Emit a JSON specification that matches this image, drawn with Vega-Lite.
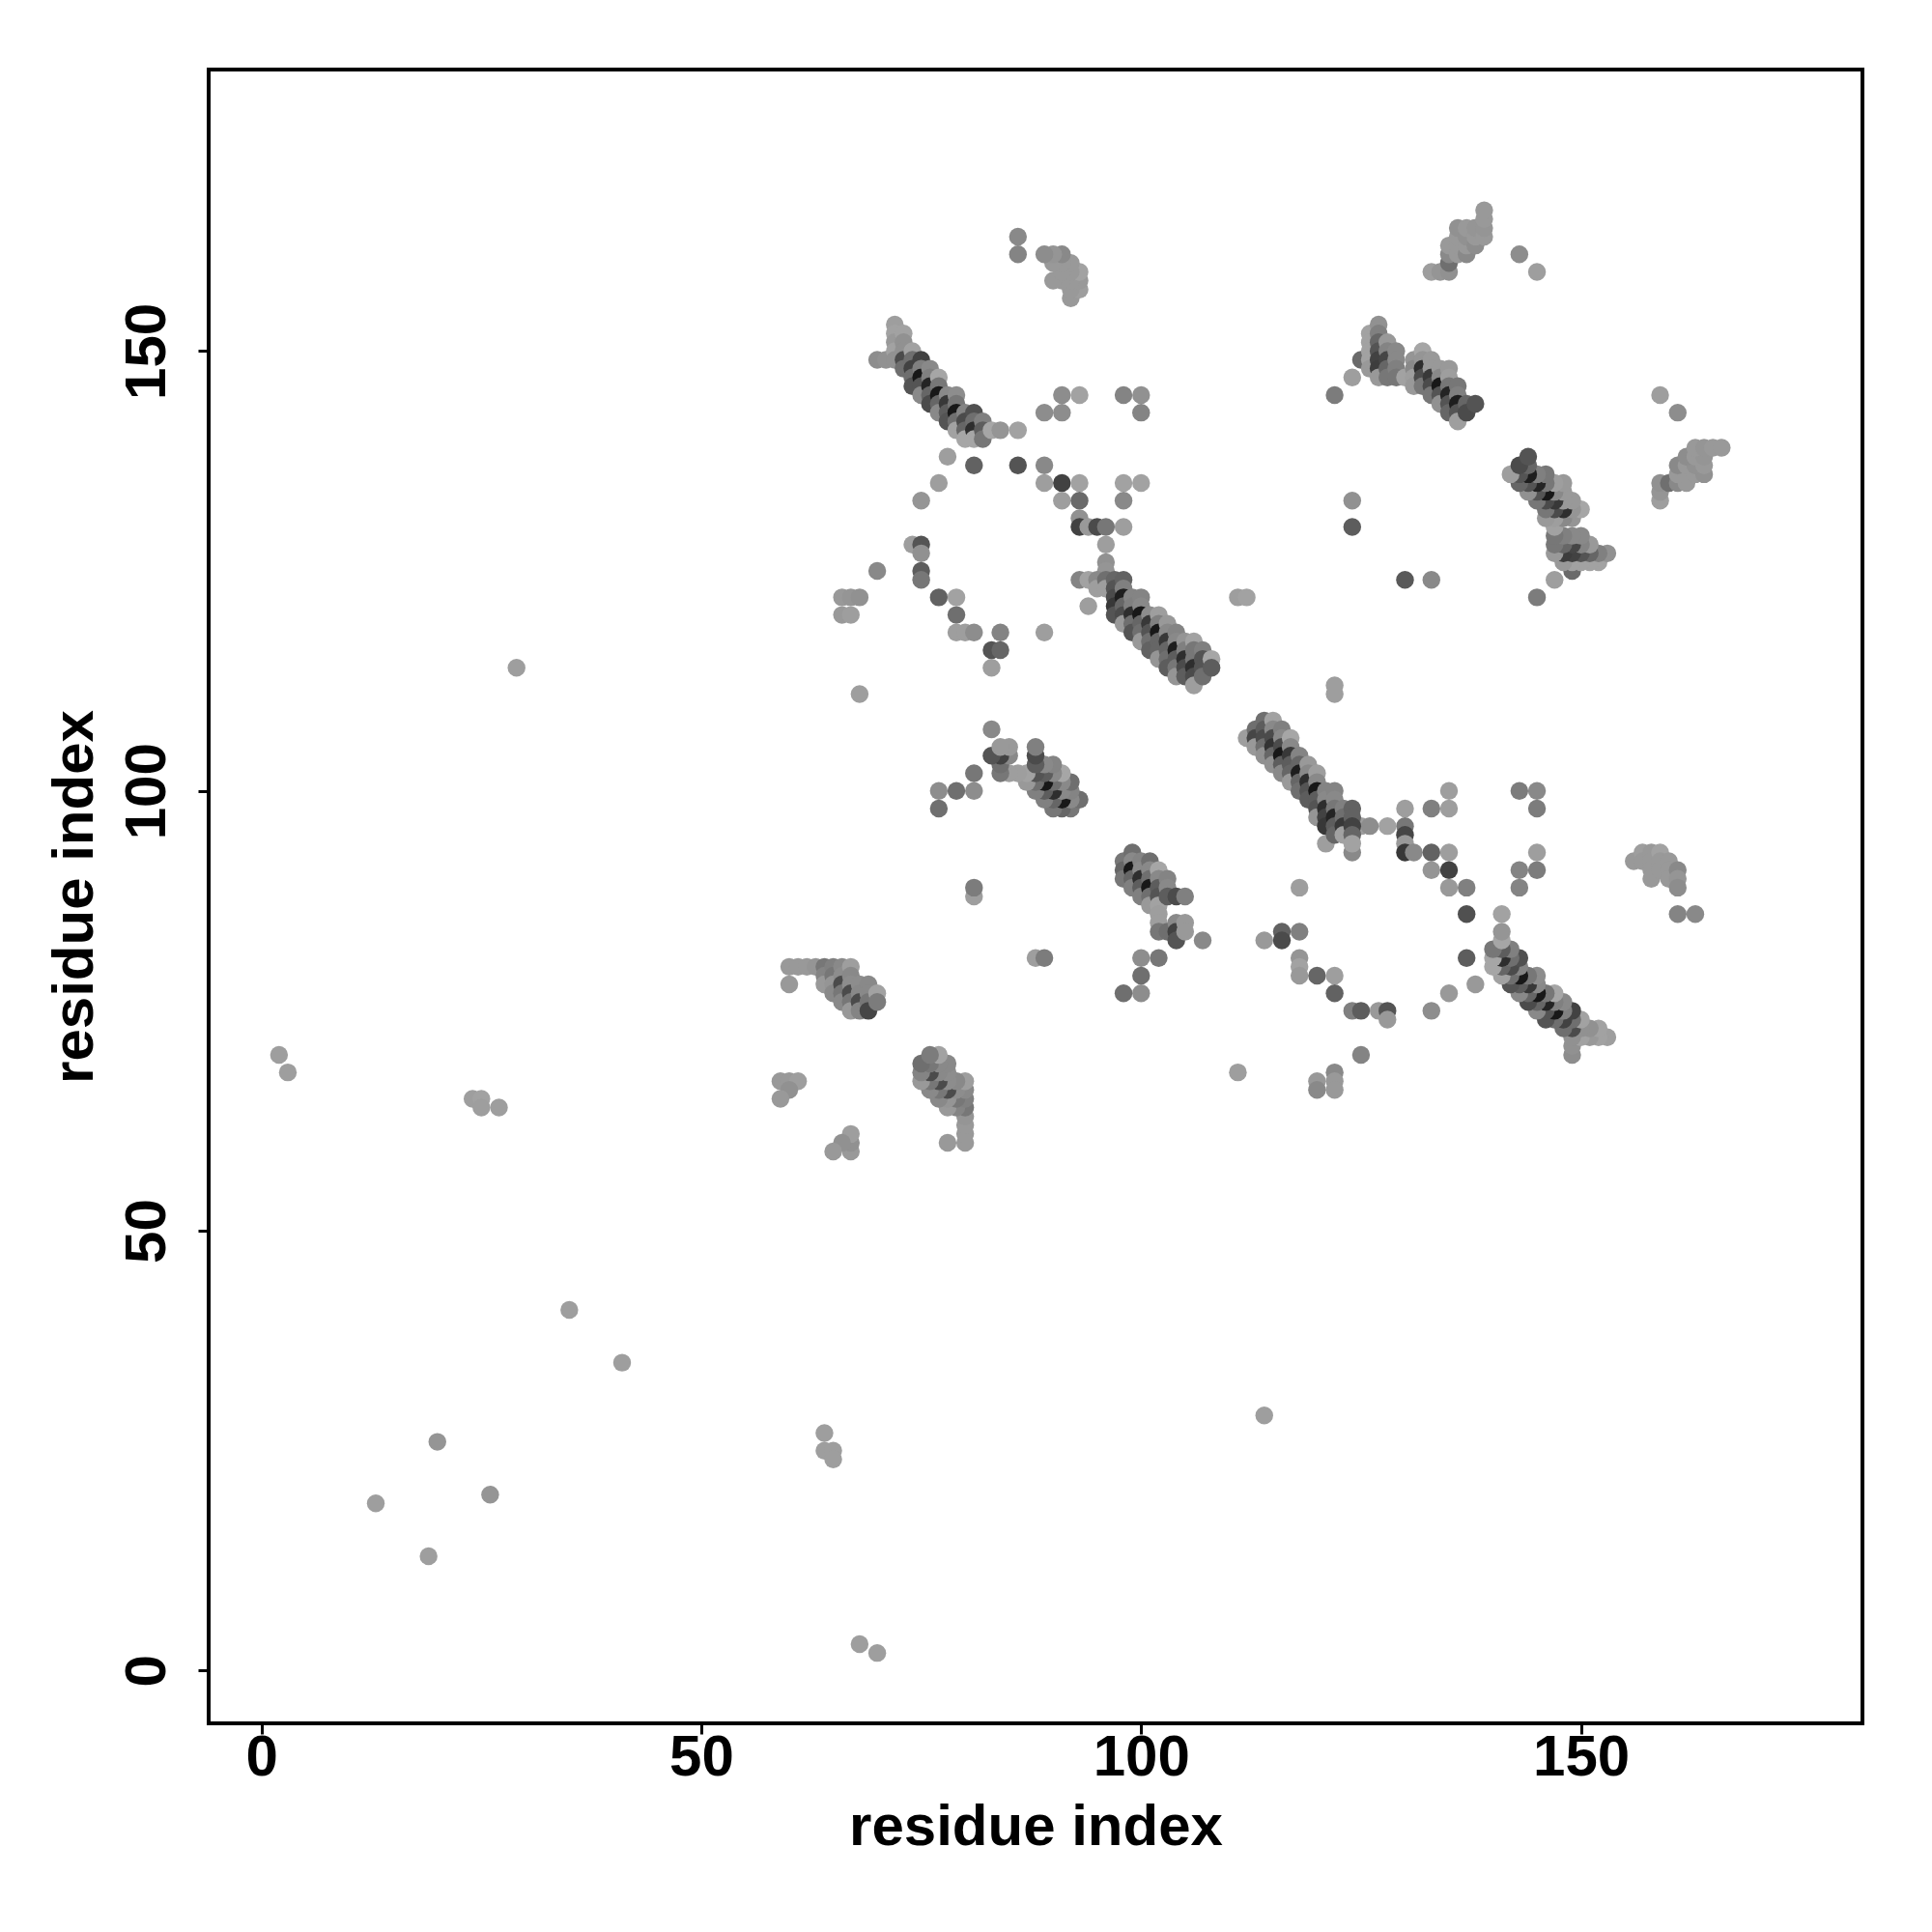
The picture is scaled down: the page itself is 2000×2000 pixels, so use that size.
{"$schema":"https://vega.github.io/schema/vega-lite/v6.json","width":1712,"height":1712,"autosize":"none","padding":{"left":216,"top":72,"right":72,"bottom":216},"background":"white",
"config":{"view":{"stroke":"#000000","strokeWidth":4,"fill":"white"}},
"data":{"values":[
{"x":2,"y":70,"g":155},{"x":3,"y":68,"g":155},{"x":24,"y":65,"g":155},{"x":25,"y":65,"g":160},{"x":25,"y":64,"g":155},{"x":27,"y":64,"g":155},{"x":29,"y":114,"g":155},{"x":35,"y":41,"g":155},{"x":41,"y":35,"g":155},{"x":20,"y":26,"g":145},{"x":26,"y":20,"g":145},{"x":13,"y":19,"g":155},{"x":19,"y":13,"g":155},{"x":64,"y":27,"g":155},{"x":64,"y":25,"g":155},{"x":65,"y":25,"g":155},{"x":65,"y":24,"g":155},{"x":68,"y":3,"g":155},{"x":70,"y":2,"g":155},{"x":114,"y":29,"g":155},
{"x":59,"y":67,"g":150},{"x":60,"y":67,"g":150},{"x":61,"y":67,"g":155},{"x":60,"y":66,"g":140},{"x":59,"y":65,"g":150},{"x":67,"y":59,"g":150},{"x":67,"y":60,"g":140},{"x":67,"y":61,"g":155},{"x":66,"y":60,"g":140},{"x":65,"y":59,"g":150},
{"x":60,"y":80,"g":150},{"x":61,"y":80,"g":150},{"x":62,"y":80,"g":150},{"x":63,"y":80,"g":145},{"x":60,"y":78,"g":150},
{"x":64,"y":80,"g":110},{"x":64,"y":79,"g":125},{"x":64,"y":78,"g":150},{"x":65,"y":80,"g":120},{"x":65,"y":79,"g":110},{"x":65,"y":78,"g":145},{"x":65,"y":77,"g":130},{"x":66,"y":80,"g":130},{"x":66,"y":79,"g":135},{"x":66,"y":78,"g":60},{"x":66,"y":77,"g":110},{"x":66,"y":76,"g":130},{"x":67,"y":80,"g":155},{"x":67,"y":79,"g":130},{"x":67,"y":78,"g":135},{"x":67,"y":77,"g":60},{"x":67,"y":76,"g":110},{"x":67,"y":75,"g":150},{"x":68,"y":78,"g":135},{"x":68,"y":77,"g":130},{"x":68,"y":76,"g":60},{"x":68,"y":75,"g":125},{"x":69,"y":78,"g":130},{"x":69,"y":77,"g":130},{"x":69,"y":76,"g":110},{"x":69,"y":75,"g":55},{"x":70,"y":77,"g":160},{"x":70,"y":76,"g":115},
{"x":80,"y":60,"g":150},{"x":80,"y":61,"g":150},{"x":80,"y":62,"g":150},{"x":80,"y":63,"g":145},{"x":78,"y":60,"g":150},
{"x":80,"y":64,"g":110},{"x":79,"y":64,"g":125},{"x":78,"y":64,"g":150},{"x":80,"y":65,"g":120},{"x":79,"y":65,"g":110},{"x":78,"y":65,"g":145},{"x":77,"y":65,"g":130},{"x":80,"y":66,"g":130},{"x":79,"y":66,"g":135},{"x":78,"y":66,"g":60},{"x":77,"y":66,"g":110},{"x":76,"y":66,"g":130},{"x":80,"y":67,"g":155},{"x":79,"y":67,"g":130},{"x":78,"y":67,"g":135},{"x":77,"y":67,"g":60},{"x":76,"y":67,"g":110},{"x":75,"y":67,"g":150},{"x":78,"y":68,"g":135},{"x":77,"y":68,"g":130},{"x":76,"y":68,"g":60},{"x":75,"y":68,"g":125},{"x":78,"y":69,"g":130},{"x":77,"y":69,"g":130},{"x":76,"y":69,"g":110},{"x":75,"y":69,"g":100},{"x":77,"y":70,"g":160},{"x":76,"y":70,"g":115},
{"x":70,"y":149,"g":135},{"x":71,"y":149,"g":140},{"x":72,"y":153,"g":155},{"x":72,"y":152,"g":160},{"x":72,"y":151,"g":150},{"x":72,"y":150,"g":160},{"x":72,"y":149,"g":140},{"x":73,"y":152,"g":160},{"x":73,"y":151,"g":140},{"x":73,"y":150,"g":140},{"x":73,"y":149,"g":60},{"x":73,"y":148,"g":100},{"x":74,"y":150,"g":160},{"x":74,"y":149,"g":100},{"x":74,"y":148,"g":50},{"x":74,"y":147,"g":100},{"x":74,"y":146,"g":70},{"x":75,"y":149,"g":50},{"x":75,"y":148,"g":120},{"x":75,"y":147,"g":10},{"x":75,"y":146,"g":70},{"x":75,"y":145,"g":130},{"x":76,"y":148,"g":130},{"x":76,"y":147,"g":120},{"x":76,"y":146,"g":20},{"x":76,"y":145,"g":90},{"x":76,"y":144,"g":60},{"x":77,"y":147,"g":165},{"x":77,"y":146,"g":110},{"x":77,"y":145,"g":10},{"x":77,"y":144,"g":90},{"x":77,"y":143,"g":130},{"x":78,"y":145,"g":130},{"x":78,"y":144,"g":40},{"x":78,"y":143,"g":80},{"x":78,"y":142,"g":70},{"x":79,"y":145,"g":135},{"x":79,"y":144,"g":110},{"x":79,"y":143,"g":10},{"x":79,"y":142,"g":100},{"x":79,"y":141,"g":160},{"x":80,"y":143,"g":125},{"x":80,"y":142,"g":60},{"x":80,"y":141,"g":90},{"x":80,"y":140,"g":165},{"x":81,"y":143,"g":65},{"x":81,"y":142,"g":100},{"x":81,"y":141,"g":30},{"x":81,"y":140,"g":165},{"x":82,"y":142,"g":120},{"x":82,"y":141,"g":80},{"x":82,"y":140,"g":110},{"x":83,"y":141,"g":165},{"x":84,"y":141,"g":145},{"x":86,"y":141,"g":160},
{"x":149,"y":70,"g":135},{"x":149,"y":71,"g":140},{"x":153,"y":72,"g":155},{"x":152,"y":72,"g":160},{"x":151,"y":72,"g":150},{"x":150,"y":72,"g":160},{"x":149,"y":72,"g":140},{"x":152,"y":73,"g":160},{"x":151,"y":73,"g":140},{"x":150,"y":73,"g":140},{"x":149,"y":73,"g":60},{"x":148,"y":73,"g":100},{"x":150,"y":74,"g":160},{"x":149,"y":74,"g":100},{"x":148,"y":74,"g":50},{"x":147,"y":74,"g":100},{"x":146,"y":74,"g":70},{"x":149,"y":75,"g":50},{"x":148,"y":75,"g":120},{"x":147,"y":75,"g":10},{"x":146,"y":75,"g":70},{"x":145,"y":75,"g":130},{"x":148,"y":76,"g":130},{"x":147,"y":76,"g":120},{"x":146,"y":76,"g":20},{"x":145,"y":76,"g":90},{"x":144,"y":76,"g":60},{"x":147,"y":77,"g":165},{"x":146,"y":77,"g":110},{"x":145,"y":77,"g":10},{"x":144,"y":77,"g":90},{"x":143,"y":77,"g":130},{"x":145,"y":78,"g":130},{"x":144,"y":78,"g":40},{"x":143,"y":78,"g":80},{"x":142,"y":78,"g":70},{"x":145,"y":79,"g":135},{"x":144,"y":79,"g":110},{"x":143,"y":79,"g":10},{"x":142,"y":79,"g":100},{"x":141,"y":79,"g":160},{"x":143,"y":80,"g":125},{"x":142,"y":80,"g":60},{"x":141,"y":80,"g":90},{"x":140,"y":80,"g":165},{"x":143,"y":81,"g":65},{"x":142,"y":81,"g":100},{"x":141,"y":81,"g":30},{"x":140,"y":81,"g":165},{"x":142,"y":82,"g":120},{"x":141,"y":82,"g":80},{"x":140,"y":82,"g":110},{"x":141,"y":83,"g":165},{"x":141,"y":84,"g":145},{"x":141,"y":86,"g":160},
{"x":91,"y":145,"g":135},{"x":93,"y":145,"g":160},{"x":89,"y":143,"g":135},{"x":91,"y":143,"g":135},{"x":98,"y":145,"g":125},{"x":100,"y":145,"g":140},{"x":100,"y":143,"g":125},{"x":78,"y":138,"g":155},{"x":81,"y":137,"g":85},{"x":86,"y":137,"g":70},{"x":89,"y":137,"g":130},{"x":77,"y":135,"g":155},{"x":89,"y":135,"g":155},{"x":91,"y":135,"g":50},{"x":93,"y":135,"g":160},{"x":98,"y":135,"g":160},{"x":100,"y":135,"g":160},{"x":75,"y":133,"g":145},{"x":91,"y":133,"g":155},{"x":93,"y":133,"g":95},{"x":98,"y":133,"g":130},{"x":93,"y":131,"g":140},{"x":93,"y":130,"g":50},{"x":94,"y":130,"g":150},{"x":95,"y":130,"g":60},{"x":96,"y":130,"g":110},{"x":98,"y":130,"g":155},{"x":96,"y":128,"g":155},{"x":74,"y":128,"g":155},{"x":75,"y":128,"g":70},{"x":75,"y":127,"g":140},{"x":75,"y":125,"g":80},{"x":75,"y":124,"g":110},{"x":70,"y":125,"g":130},{"x":96,"y":126,"g":140},{"x":96,"y":125,"g":145},{"x":93,"y":124,"g":125},{"x":77,"y":122,"g":85},{"x":79,"y":122,"g":160},{"x":79,"y":120,"g":100},{"x":79,"y":118,"g":155},{"x":80,"y":118,"g":155},{"x":81,"y":118,"g":135},{"x":84,"y":118,"g":125},{"x":89,"y":118,"g":155},{"x":83,"y":116,"g":70},{"x":84,"y":116,"g":90},{"x":83,"y":114,"g":155},{"x":66,"y":122,"g":150},{"x":67,"y":122,"g":145},{"x":68,"y":122,"g":140},{"x":66,"y":120,"g":150},{"x":67,"y":120,"g":155},{"x":68,"y":111,"g":155},{"x":94,"y":121,"g":155},{"x":111,"y":122,"g":155},{"x":112,"y":122,"g":160},{"x":122,"y":145,"g":115},{"x":124,"y":147,"g":155},{"x":125,"y":149,"g":95},{"x":124,"y":133,"g":140},{"x":124,"y":130,"g":80},{"x":130,"y":124,"g":75},{"x":133,"y":124,"g":130},{"x":145,"y":122,"g":115},{"x":147,"y":124,"g":155},{"x":149,"y":125,"g":95},{"x":143,"y":161,"g":135},{"x":145,"y":159,"g":155},{"x":161,"y":143,"g":135},{"x":159,"y":145,"g":155},
{"x":130,"y":98,"g":155},{"x":133,"y":98,"g":120},{"x":135,"y":98,"g":155},{"x":135,"y":100,"g":155},{"x":143,"y":100,"g":115},{"x":145,"y":100,"g":130},{"x":145,"y":98,"g":115},{"x":130,"y":96,"g":110},{"x":130,"y":95,"g":55},{"x":130,"y":94,"g":150},{"x":130,"y":93,"g":40},{"x":131,"y":93,"g":130},{"x":133,"y":93,"g":85},{"x":135,"y":93,"g":155},{"x":145,"y":93,"g":155},{"x":133,"y":91,"g":145},{"x":135,"y":91,"g":50},{"x":143,"y":91,"g":125},{"x":145,"y":91,"g":115},{"x":135,"y":89,"g":150},{"x":137,"y":89,"g":120},{"x":143,"y":89,"g":125},{"x":137,"y":86,"g":65},{"x":137,"y":81,"g":80},{"x":138,"y":78,"g":150},{"x":135,"y":77,"g":150},{"x":133,"y":75,"g":135},{"x":118,"y":89,"g":155},{"x":116,"y":84,"g":85},{"x":116,"y":83,"g":60},{"x":118,"y":84,"g":120},{"x":114,"y":83,"g":150},{"x":118,"y":81,"g":145},{"x":118,"y":80,"g":160},{"x":118,"y":79,"g":150},{"x":120,"y":79,"g":90},{"x":122,"y":79,"g":155},{"x":122,"y":77,"g":85},{"x":124,"y":75,"g":120},{"x":125,"y":75,"g":80},{"x":127,"y":75,"g":150},{"x":128,"y":75,"g":70},{"x":128,"y":74,"g":150},{"x":125,"y":70,"g":125},{"x":122,"y":68,"g":130},{"x":122,"y":67,"g":150},{"x":122,"y":66,"g":150},{"x":120,"y":67,"g":150},{"x":120,"y":66,"g":130},{"x":111,"y":68,"g":155},{"x":122,"y":112,"g":155},{"x":122,"y":111,"g":155},{"x":121,"y":94,"g":155},{"x":124,"y":93,"g":130},{"x":125,"y":96,"g":155},{"x":126,"y":96,"g":135},{"x":128,"y":96,"g":160},
{"x":94,"y":124,"g":160},{"x":95,"y":124,"g":130},{"x":95,"y":123,"g":155},{"x":96,"y":124,"g":100},{"x":96,"y":123,"g":155},{"x":97,"y":124,"g":90},{"x":97,"y":123,"g":70},{"x":97,"y":122,"g":60},{"x":97,"y":121,"g":40},{"x":97,"y":120,"g":70},{"x":98,"y":124,"g":85},{"x":98,"y":123,"g":120},{"x":98,"y":122,"g":15},{"x":98,"y":121,"g":90},{"x":98,"y":120,"g":60},{"x":98,"y":119,"g":150},{"x":99,"y":122,"g":125},{"x":99,"y":121,"g":120},{"x":99,"y":120,"g":30},{"x":99,"y":119,"g":100},{"x":99,"y":118,"g":70},{"x":100,"y":122,"g":125},{"x":100,"y":121,"g":130},{"x":100,"y":120,"g":10},{"x":100,"y":119,"g":90},{"x":100,"y":118,"g":100},{"x":100,"y":117,"g":150},{"x":101,"y":120,"g":135},{"x":101,"y":119,"g":40},{"x":101,"y":118,"g":70},{"x":101,"y":117,"g":100},{"x":101,"y":116,"g":85},{"x":102,"y":120,"g":155},{"x":102,"y":119,"g":120},{"x":102,"y":118,"g":10},{"x":102,"y":117,"g":90},{"x":102,"y":116,"g":90},{"x":102,"y":115,"g":145},{"x":103,"y":119,"g":150},{"x":103,"y":118,"g":130},{"x":103,"y":117,"g":40},{"x":103,"y":116,"g":90},{"x":103,"y":115,"g":100},{"x":103,"y":114,"g":80},{"x":104,"y":118,"g":125},{"x":104,"y":117,"g":130},{"x":104,"y":116,"g":15},{"x":104,"y":115,"g":80},{"x":104,"y":114,"g":110},{"x":104,"y":113,"g":145},{"x":105,"y":117,"g":145},{"x":105,"y":116,"g":120},{"x":105,"y":115,"g":30},{"x":105,"y":114,"g":60},{"x":105,"y":113,"g":80},{"x":106,"y":117,"g":160},{"x":106,"y":116,"g":110},{"x":106,"y":115,"g":110},{"x":106,"y":114,"g":30},{"x":106,"y":113,"g":60},{"x":106,"y":112,"g":155},{"x":107,"y":116,"g":120},{"x":107,"y":115,"g":70},{"x":107,"y":114,"g":70},{"x":107,"y":113,"g":100},{"x":108,"y":115,"g":165},{"x":108,"y":114,"g":80},
{"x":112,"y":106,"g":155},{"x":113,"y":107,"g":100},{"x":113,"y":106,"g":55},{"x":113,"y":105,"g":150},{"x":114,"y":108,"g":100},{"x":114,"y":107,"g":80},{"x":114,"y":106,"g":60},{"x":114,"y":105,"g":100},{"x":114,"y":104,"g":140},{"x":115,"y":108,"g":160},{"x":115,"y":107,"g":130},{"x":115,"y":106,"g":60},{"x":115,"y":105,"g":35},{"x":115,"y":104,"g":90},{"x":115,"y":103,"g":140},{"x":116,"y":107,"g":120},{"x":116,"y":106,"g":130},{"x":116,"y":105,"g":60},{"x":116,"y":104,"g":10},{"x":116,"y":103,"g":80},{"x":116,"y":102,"g":130},{"x":117,"y":106,"g":165},{"x":117,"y":105,"g":130},{"x":117,"y":104,"g":40},{"x":117,"y":103,"g":80},{"x":117,"y":102,"g":90},{"x":117,"y":101,"g":150},{"x":118,"y":104,"g":125},{"x":118,"y":103,"g":90},{"x":118,"y":102,"g":15},{"x":118,"y":101,"g":90},{"x":118,"y":100,"g":100},{"x":119,"y":103,"g":150},{"x":119,"y":102,"g":130},{"x":119,"y":101,"g":30},{"x":119,"y":100,"g":70},{"x":119,"y":99,"g":80},{"x":120,"y":102,"g":155},{"x":120,"y":101,"g":130},{"x":120,"y":100,"g":10},{"x":120,"y":99,"g":80},{"x":120,"y":98,"g":70},{"x":120,"y":97,"g":145},{"x":121,"y":100,"g":125},{"x":121,"y":99,"g":130},{"x":121,"y":98,"g":30},{"x":121,"y":97,"g":50},{"x":121,"y":96,"g":40},{"x":122,"y":100,"g":125},{"x":122,"y":99,"g":130},{"x":122,"y":98,"g":110},{"x":122,"y":97,"g":20},{"x":122,"y":96,"g":80},{"x":122,"y":95,"g":90},{"x":123,"y":98,"g":120},{"x":123,"y":97,"g":100},{"x":123,"y":96,"g":40},{"x":123,"y":95,"g":160},{"x":124,"y":98,"g":85},{"x":124,"y":97,"g":85},{"x":124,"y":96,"g":50},{"x":124,"y":95,"g":90},{"x":124,"y":94,"g":160},
{"x":126,"y":152,"g":160},{"x":126,"y":151,"g":160},{"x":126,"y":150,"g":160},{"x":126,"y":149,"g":160},{"x":126,"y":148,"g":150},{"x":127,"y":153,"g":140},{"x":127,"y":152,"g":120},{"x":127,"y":151,"g":90},{"x":127,"y":150,"g":70},{"x":127,"y":149,"g":50},{"x":127,"y":148,"g":45},{"x":127,"y":147,"g":150},{"x":128,"y":151,"g":150},{"x":128,"y":150,"g":125},{"x":128,"y":149,"g":55},{"x":128,"y":148,"g":90},{"x":128,"y":147,"g":110},{"x":129,"y":150,"g":130},{"x":129,"y":149,"g":130},{"x":129,"y":148,"g":120},{"x":129,"y":147,"g":110},{"x":130,"y":147,"g":160},{"x":131,"y":149,"g":145},{"x":131,"y":148,"g":130},{"x":131,"y":147,"g":155},{"x":131,"y":146,"g":150},{"x":132,"y":150,"g":165},{"x":132,"y":149,"g":145},{"x":132,"y":148,"g":30},{"x":132,"y":147,"g":60},{"x":132,"y":146,"g":110},{"x":133,"y":149,"g":150},{"x":133,"y":148,"g":150},{"x":133,"y":147,"g":40},{"x":133,"y":146,"g":60},{"x":133,"y":145,"g":110},{"x":134,"y":148,"g":150},{"x":134,"y":147,"g":130},{"x":134,"y":146,"g":10},{"x":134,"y":145,"g":70},{"x":134,"y":144,"g":140},{"x":135,"y":148,"g":150},{"x":135,"y":147,"g":155},{"x":135,"y":146,"g":110},{"x":135,"y":145,"g":20},{"x":135,"y":144,"g":70},{"x":135,"y":143,"g":90},{"x":136,"y":146,"g":110},{"x":136,"y":145,"g":120},{"x":136,"y":144,"g":15},{"x":136,"y":143,"g":70},{"x":136,"y":142,"g":155},{"x":137,"y":144,"g":90},{"x":137,"y":143,"g":60},{"x":138,"y":144,"g":70},
{"x":152,"y":126,"g":160},{"x":151,"y":126,"g":160},{"x":150,"y":126,"g":160},{"x":149,"y":126,"g":160},{"x":148,"y":126,"g":150},{"x":153,"y":127,"g":140},{"x":152,"y":127,"g":120},{"x":151,"y":127,"g":90},{"x":150,"y":127,"g":70},{"x":149,"y":127,"g":50},{"x":148,"y":127,"g":45},{"x":147,"y":127,"g":150},{"x":151,"y":128,"g":150},{"x":150,"y":128,"g":125},{"x":149,"y":128,"g":55},{"x":148,"y":128,"g":90},{"x":147,"y":128,"g":110},{"x":150,"y":129,"g":130},{"x":149,"y":129,"g":130},{"x":148,"y":129,"g":120},{"x":147,"y":129,"g":110},{"x":147,"y":130,"g":160},{"x":149,"y":131,"g":145},{"x":148,"y":131,"g":130},{"x":147,"y":131,"g":155},{"x":146,"y":131,"g":150},{"x":150,"y":132,"g":165},{"x":149,"y":132,"g":145},{"x":148,"y":132,"g":30},{"x":147,"y":132,"g":60},{"x":146,"y":132,"g":110},{"x":149,"y":133,"g":150},{"x":148,"y":133,"g":150},{"x":147,"y":133,"g":40},{"x":146,"y":133,"g":60},{"x":145,"y":133,"g":110},{"x":148,"y":134,"g":150},{"x":147,"y":134,"g":130},{"x":146,"y":134,"g":10},{"x":145,"y":134,"g":70},{"x":144,"y":134,"g":140},{"x":148,"y":135,"g":150},{"x":147,"y":135,"g":155},{"x":146,"y":135,"g":110},{"x":145,"y":135,"g":20},{"x":144,"y":135,"g":70},{"x":143,"y":135,"g":90},{"x":146,"y":136,"g":110},{"x":145,"y":136,"g":120},{"x":144,"y":136,"g":15},{"x":143,"y":136,"g":70},{"x":142,"y":136,"g":155},{"x":144,"y":137,"g":90},{"x":143,"y":137,"g":60},{"x":144,"y":138,"g":70},
{"x":133,"y":159,"g":155},{"x":134,"y":159,"g":145},{"x":135,"y":159,"g":140},{"x":135,"y":160,"g":100},{"x":135,"y":161,"g":130},{"x":135,"y":162,"g":150},{"x":136,"y":161,"g":150},{"x":136,"y":162,"g":150},{"x":136,"y":163,"g":150},{"x":136,"y":164,"g":140},{"x":137,"y":161,"g":130},{"x":137,"y":162,"g":150},{"x":137,"y":163,"g":140},{"x":137,"y":164,"g":150},{"x":138,"y":162,"g":135},{"x":138,"y":163,"g":150},{"x":138,"y":164,"g":145},{"x":139,"y":163,"g":150},{"x":139,"y":164,"g":145},{"x":139,"y":165,"g":150},{"x":139,"y":166,"g":150},
{"x":159,"y":133,"g":155},{"x":159,"y":134,"g":145},{"x":159,"y":135,"g":140},{"x":160,"y":135,"g":100},{"x":161,"y":135,"g":130},{"x":162,"y":135,"g":150},{"x":161,"y":136,"g":150},{"x":162,"y":136,"g":150},{"x":163,"y":136,"g":150},{"x":164,"y":136,"g":140},{"x":161,"y":137,"g":130},{"x":162,"y":137,"g":150},{"x":163,"y":137,"g":140},{"x":164,"y":137,"g":150},{"x":162,"y":138,"g":135},{"x":163,"y":138,"g":150},{"x":164,"y":138,"g":145},{"x":163,"y":139,"g":150},{"x":164,"y":139,"g":145},{"x":165,"y":139,"g":150},{"x":166,"y":139,"g":150},
{"x":156,"y":92,"g":150},{"x":157,"y":93,"g":155},{"x":157,"y":92,"g":150},{"x":158,"y":93,"g":150},{"x":158,"y":92,"g":150},{"x":158,"y":91,"g":150},{"x":158,"y":90,"g":150},{"x":159,"y":93,"g":160},{"x":159,"y":92,"g":150},{"x":159,"y":91,"g":150},{"x":160,"y":92,"g":150},{"x":160,"y":91,"g":150},{"x":160,"y":90,"g":150},{"x":161,"y":91,"g":130},{"x":161,"y":90,"g":145},{"x":161,"y":89,"g":135},{"x":161,"y":86,"g":125},{"x":163,"y":86,"g":130},
{"x":92,"y":156,"g":150},{"x":93,"y":157,"g":155},{"x":92,"y":157,"g":150},{"x":93,"y":158,"g":150},{"x":92,"y":158,"g":150},{"x":91,"y":158,"g":150},{"x":90,"y":158,"g":150},{"x":93,"y":159,"g":160},{"x":92,"y":159,"g":150},{"x":91,"y":159,"g":150},{"x":92,"y":160,"g":150},{"x":91,"y":160,"g":150},{"x":90,"y":160,"g":150},{"x":91,"y":161,"g":130},{"x":90,"y":161,"g":145},{"x":89,"y":161,"g":135},{"x":86,"y":161,"g":125},{"x":86,"y":163,"g":130},
{"x":98,"y":92,"g":110},{"x":98,"y":91,"g":90},{"x":98,"y":90,"g":110},{"x":99,"y":93,"g":100},{"x":99,"y":92,"g":130},{"x":99,"y":91,"g":10},{"x":99,"y":90,"g":90},{"x":99,"y":89,"g":120},{"x":100,"y":92,"g":125},{"x":100,"y":91,"g":130},{"x":100,"y":90,"g":30},{"x":100,"y":89,"g":80},{"x":100,"y":88,"g":120},{"x":101,"y":92,"g":100},{"x":101,"y":91,"g":130},{"x":101,"y":90,"g":100},{"x":101,"y":89,"g":10},{"x":101,"y":88,"g":100},{"x":101,"y":87,"g":150},{"x":102,"y":91,"g":165},{"x":102,"y":90,"g":130},{"x":102,"y":89,"g":80},{"x":102,"y":88,"g":70},{"x":102,"y":87,"g":160},{"x":102,"y":86,"g":155},{"x":102,"y":85,"g":155},{"x":102,"y":84,"g":110},{"x":103,"y":90,"g":125},{"x":103,"y":89,"g":130},{"x":103,"y":88,"g":80},{"x":103,"y":84,"g":100},{"x":104,"y":88,"g":60},{"x":104,"y":85,"g":130},{"x":104,"y":84,"g":50},{"x":104,"y":83,"g":70},{"x":105,"y":88,"g":120},{"x":105,"y":85,"g":150},{"x":105,"y":84,"g":150},{"x":107,"y":83,"g":130},{"x":100,"y":81,"g":135},{"x":102,"y":81,"g":110},{"x":100,"y":79,"g":100},{"x":98,"y":77,"g":100},{"x":100,"y":77,"g":135},{"x":88,"y":81,"g":155},{"x":89,"y":81,"g":115},
{"x":92,"y":98,"g":110},{"x":91,"y":98,"g":90},{"x":90,"y":98,"g":110},{"x":93,"y":99,"g":100},{"x":92,"y":99,"g":130},{"x":91,"y":99,"g":10},{"x":90,"y":99,"g":90},{"x":89,"y":99,"g":120},{"x":92,"y":100,"g":125},{"x":91,"y":100,"g":130},{"x":90,"y":100,"g":30},{"x":89,"y":100,"g":80},{"x":88,"y":100,"g":120},{"x":92,"y":101,"g":100},{"x":91,"y":101,"g":130},{"x":90,"y":101,"g":100},{"x":89,"y":101,"g":10},{"x":88,"y":101,"g":100},{"x":87,"y":101,"g":150},{"x":91,"y":102,"g":165},{"x":90,"y":102,"g":130},{"x":89,"y":102,"g":80},{"x":88,"y":102,"g":70},{"x":87,"y":102,"g":160},{"x":86,"y":102,"g":155},{"x":85,"y":102,"g":155},{"x":84,"y":102,"g":110},{"x":90,"y":103,"g":125},{"x":89,"y":103,"g":130},{"x":88,"y":103,"g":80},{"x":84,"y":103,"g":100},{"x":88,"y":104,"g":60},{"x":85,"y":104,"g":130},{"x":84,"y":104,"g":50},{"x":83,"y":104,"g":70},{"x":88,"y":105,"g":120},{"x":85,"y":105,"g":150},{"x":84,"y":105,"g":150},{"x":83,"y":107,"g":130},{"x":81,"y":100,"g":135},{"x":81,"y":102,"g":110},{"x":79,"y":100,"g":100},{"x":77,"y":98,"g":100},{"x":77,"y":100,"g":135},{"x":81,"y":88,"g":155},{"x":81,"y":89,"g":115}
]},
"mark":{"type":"circle","size":340,"opacity":1,"stroke":null},
"encoding":{
"x":{"field":"x","type":"quantitative","scale":{"domain":[-6,182],"nice":false,"zero":false},"axis":{"values":[0,50,100,150],"grid":false,"domain":false,"tickSize":11,"tickWidth":3,"tickColor":"#000000","labelFont":"Liberation Sans","labelFontWeight":"bold","labelFontSize":60,"labelColor":"#000000","labelPadding":-5,"title":"residue index","titleFont":"Liberation Sans","titleFontWeight":"bold","titleFontSize":60,"titleColor":"#000000","titlePadding":13}},
"y":{"field":"y","type":"quantitative","scale":{"domain":[-6,182],"nice":false,"zero":false},"axis":{"values":[0,50,100,150],"grid":false,"domain":false,"tickSize":11,"tickWidth":3,"tickColor":"#000000","labelFont":"Liberation Sans","labelFontWeight":"bold","labelFontSize":60,"labelColor":"#000000","labelAngle":270,"labelAlign":"center","labelBaseline":"bottom","labelPadding":22,"title":"residue index","titleFont":"Liberation Sans","titleFontWeight":"bold","titleFontSize":60,"titleColor":"#000000","titlePadding":14}},
"color":{"field":"g","type":"quantitative","scale":{"type":"pow","exponent":0.75,"domain":[0,170],"range":["#000000","#aaaaaa"]},"legend":null},
"order":[{"field":"x","type":"quantitative"},{"field":"y","type":"quantitative"}]
}}
